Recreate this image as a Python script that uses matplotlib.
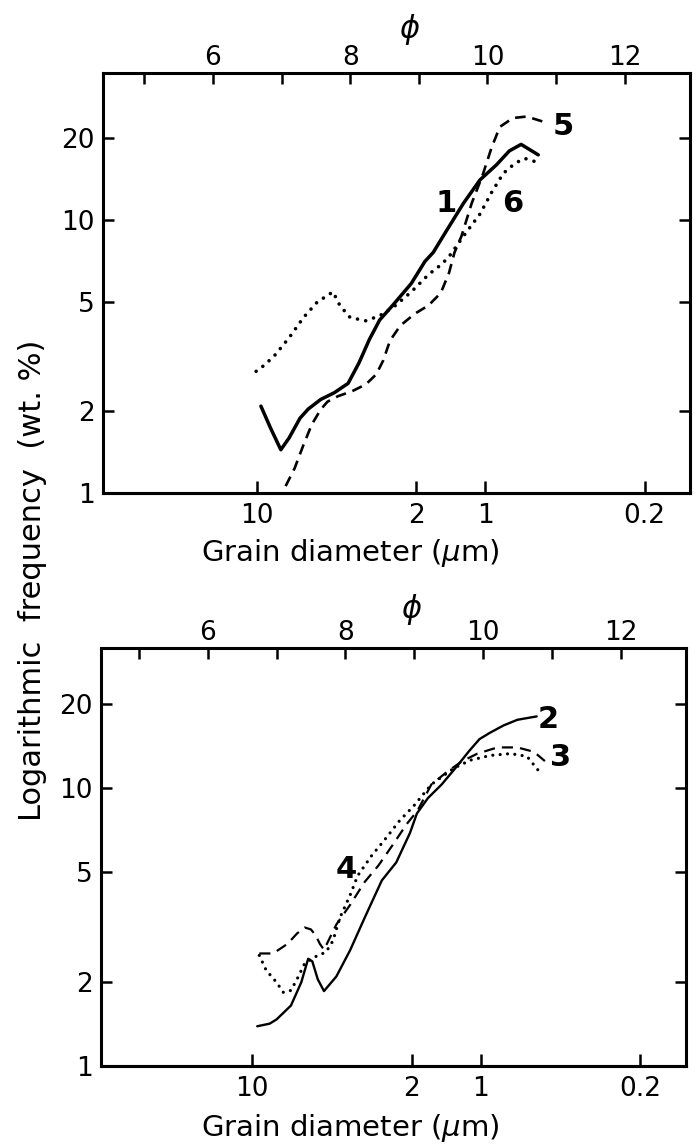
import numpy as np
import matplotlib
matplotlib.use('Agg')
import matplotlib.pyplot as plt
from matplotlib.ticker import NullLocator, FixedLocator

plt.rcParams['font.family'] = ['DejaVu Sans']

# ---------------- data (phi units, wt.%) ----------------
# top panel
phi_1 = [6.70, 6.84, 6.99, 7.11, 7.27, 7.39, 7.57, 7.77, 7.97, 8.13, 8.28, 8.43, 8.63,
         8.89, 9.09, 9.21, 9.40, 9.65, 9.89, 10.13, 10.32, 10.49, 10.74]
f_1 = [2.08, 1.73, 1.44, 1.59, 1.88, 2.03, 2.20, 2.33, 2.52, 3.00, 3.65, 4.30, 4.90,
       5.85, 7.05, 7.60, 9.10, 11.5, 14.0, 15.9, 17.9, 18.9, 17.3]

phi_5 = [7.06, 7.19, 7.32, 7.44, 7.57, 7.67, 7.82, 8.03, 8.23, 8.38, 8.48, 8.58, 8.73,
         8.94, 9.14, 9.32, 9.44, 9.52, 9.62, 9.77, 9.93, 10.06, 10.18, 10.37, 10.57, 10.81]
f_5 = [1.06, 1.23, 1.50, 1.78, 2.02, 2.16, 2.26, 2.36, 2.50, 2.72, 3.05, 3.61, 4.10,
       4.53, 4.86, 5.40, 6.40, 7.60, 8.70, 11.5, 14.6, 18.4, 21.9, 23.6, 23.9, 22.9]

phi_6 = [6.63, 6.76, 6.91, 7.11, 7.32, 7.52, 7.75, 7.85, 8.00, 8.23, 8.43, 8.63, 8.89,
         9.14, 9.34, 9.45, 9.69, 9.89, 10.06, 10.23, 10.40, 10.54, 10.78]
f_6 = [2.79, 2.95, 3.21, 3.70, 4.39, 5.00, 5.45, 4.86, 4.39, 4.27, 4.46, 4.79, 5.45,
       6.30, 6.90, 7.40, 9.00, 10.5, 12.6, 14.8, 16.1, 16.8, 16.1]

# bottom panel
phi_2 = [6.72, 6.90, 7.00, 7.21, 7.36, 7.46, 7.52, 7.60, 7.69, 7.87, 8.07, 8.28, 8.53,
         8.74, 8.94, 9.04, 9.20, 9.40, 9.60, 9.80, 9.95, 10.10, 10.30, 10.50, 10.78]
f_2 = [1.39, 1.42, 1.47, 1.65, 2.00, 2.43, 2.38, 2.05, 1.86, 2.10, 2.61, 3.41, 4.65,
       5.40, 6.90, 8.10, 9.20, 10.3, 11.8, 13.6, 15.0, 15.8, 16.8, 17.6, 18.1]

phi_3 = [6.75, 6.95, 7.16, 7.30, 7.41, 7.50, 7.57, 7.63, 7.69, 7.87, 8.07, 8.28, 8.48,
         8.69, 8.89, 9.05, 9.25, 9.49, 9.70, 9.92, 10.21, 10.50, 10.74, 10.90]
f_3 = [2.54, 2.54, 2.75, 3.00, 3.15, 3.10, 2.95, 2.75, 2.62, 3.23, 3.80, 4.59, 5.26,
       6.25, 7.41, 8.30, 10.3, 11.5, 12.5, 13.3, 14.0, 14.0, 13.5, 12.5]

phi_4 = [6.75, 6.85, 7.00, 7.10, 7.21, 7.31, 7.41, 7.56, 7.72, 7.82, 7.92, 8.07, 8.18,
         8.38, 8.59, 8.79, 8.99, 9.25, 9.58, 9.82, 10.11, 10.40, 10.64, 10.85]
f_4 = [2.50, 2.21, 2.00, 1.84, 1.87, 2.08, 2.34, 2.47, 2.57, 2.82, 3.41, 4.12, 4.84,
       5.70, 6.60, 7.64, 8.60, 10.3, 11.8, 12.6, 13.1, 13.3, 13.0, 11.2]

phi_ticks = [5, 6, 7, 8, 9, 10, 11, 12]
phi_ticklabels = ['', '6', '', '8', '', '10', '', '12']
um_ticks = [10, 2, 1, 0.2]
um_ticklabels = ['10', '2', '1', '0.2']
y_ticks = [1, 2, 5, 10, 20]
y_ticklabels = ['1', '2', '5', '10', '20']

# curve labels: (text, phi, freq)
labels_top = [('1', 9.40, 11.5), ('6', 10.37, 11.5), ('5', 11.11, 21.9)]
labels_bot = [('2', 10.95, 17.6), ('3', 11.13, 12.9), ('4', 8.02, 5.1)]


def phi_to_um(p):
    return 1000.0 * 2.0 ** (-np.asarray(p, dtype=float))


def um_to_phi(d):
    d = np.clip(np.asarray(d, dtype=float), 1e-9, None)
    return -np.log2(d / 1000.0)


W, H = 696, 1146
fig = plt.figure(figsize=(W / 100, H / 100), dpi=100)

# axes rectangles in pixels: left, right, top, bottom
ax_top = fig.add_axes([103 / W, 1 - 493 / H, (690 - 103) / W, (493 - 73) / H])
ax_bot = fig.add_axes([101 / W, 1 - 1066 / H, (686 - 101) / W, (1066 - 648) / H])

SP_LW = 2.2
TICK_FS = 19


def style_axes(ax, xlim, ylim):
    ax.set_yscale('log')
    ax.set_xlim(*xlim)
    ax.set_ylim(*ylim)
    for s in ax.spines.values():
        s.set_linewidth(SP_LW)
    # top phi axis
    ax.xaxis.tick_top()
    ax.set_xticks(phi_ticks)
    ax.set_xticklabels(phi_ticklabels)
    ax.tick_params(axis='x', which='major', direction='in', length=8, width=1.8,
                   top=True, bottom=False, labeltop=True, labelbottom=False,
                   labelsize=TICK_FS, pad=1.5)
    # y axis
    ax.yaxis.set_major_locator(FixedLocator(y_ticks))
    ax.set_yticklabels(y_ticklabels)
    ax.yaxis.set_minor_locator(NullLocator())
    ax.tick_params(axis='y', which='major', direction='in', length=8, width=1.8,
                   left=True, right=True, labelleft=True, labelright=False,
                   labelsize=TICK_FS, pad=6)
    # bottom grain-diameter axis
    sec = ax.secondary_xaxis('bottom', functions=(phi_to_um, um_to_phi))
    sec.set_xticks(um_ticks)
    sec.set_xticklabels(um_ticklabels)
    sec.xaxis.set_minor_locator(NullLocator())
    sec.tick_params(axis='x', which='major', direction='in', length=9, width=1.8,
                    labelsize=TICK_FS, pad=7)
    sec.spines['bottom'].set_linewidth(SP_LW)
    return sec


style_axes(ax_top, (4.40, 12.95), (1, 34.5))
style_axes(ax_bot, (4.45, 12.95), (1, 31.9))

# ---- top panel curves
ax_top.plot(phi_1, f_1, color='black', lw=2.5, solid_capstyle='round',
            solid_joinstyle='round')
l5, = ax_top.plot(phi_5, f_5, color='black', lw=1.9, dash_capstyle='butt')
l5.set_dashes([4.0, 2.6])
ax_top.plot(phi_6, f_6, color='black', lw=2.6, linestyle=(0, (0.01, 2.3)),
            dash_capstyle='round')

# ---- bottom panel curves
ax_bot.plot(phi_2, f_2, color='black', lw=1.7, solid_capstyle='round',
            solid_joinstyle='round')
l3, = ax_bot.plot(phi_3, f_3, color='black', lw=1.6, dash_capstyle='butt')
l3.set_dashes([5.0, 3.2])
ax_bot.plot(phi_4, f_4, color='black', lw=2.3, linestyle=(0, (0.01, 2.3)),
            dash_capstyle='round')

for txt, x, y in labels_top:
    ax_top.text(x, y, txt, ha='center', va='center', fontsize=22, fontweight='bold')
for txt, x, y in labels_bot:
    ax_bot.text(x, y, txt, ha='center', va='center', fontsize=22, fontweight='bold')

# phi symbols above top axes
for ax, xphi, off in [(ax_top, 8.86, 31), (ax_bot, 8.96, 28)]:
    ax.annotate('\u03d5', xy=(xphi, 1.0), xycoords=('data', 'axes fraction'),
                xytext=(0, off), textcoords='offset points', ha='center', va='center',
                fontsize=22, style='italic', annotation_clip=False)

# x labels
fig.text(350 / W, 1 - 553 / H, 'Grain diameter ($\\mu$m)', ha='center', va='center',
         fontsize=21)
fig.text(350 / W, 1 - 1128 / H, 'Grain diameter ($\\mu$m)', ha='center', va='center',
         fontsize=21)
# shared y label
fig.text(33 / W, 1 - 580 / H, 'Logarithmic  frequency  (wt. %)', rotation=90,
         ha='center', va='center', fontsize=22)

fig.savefig('out.png', dpi=100)
